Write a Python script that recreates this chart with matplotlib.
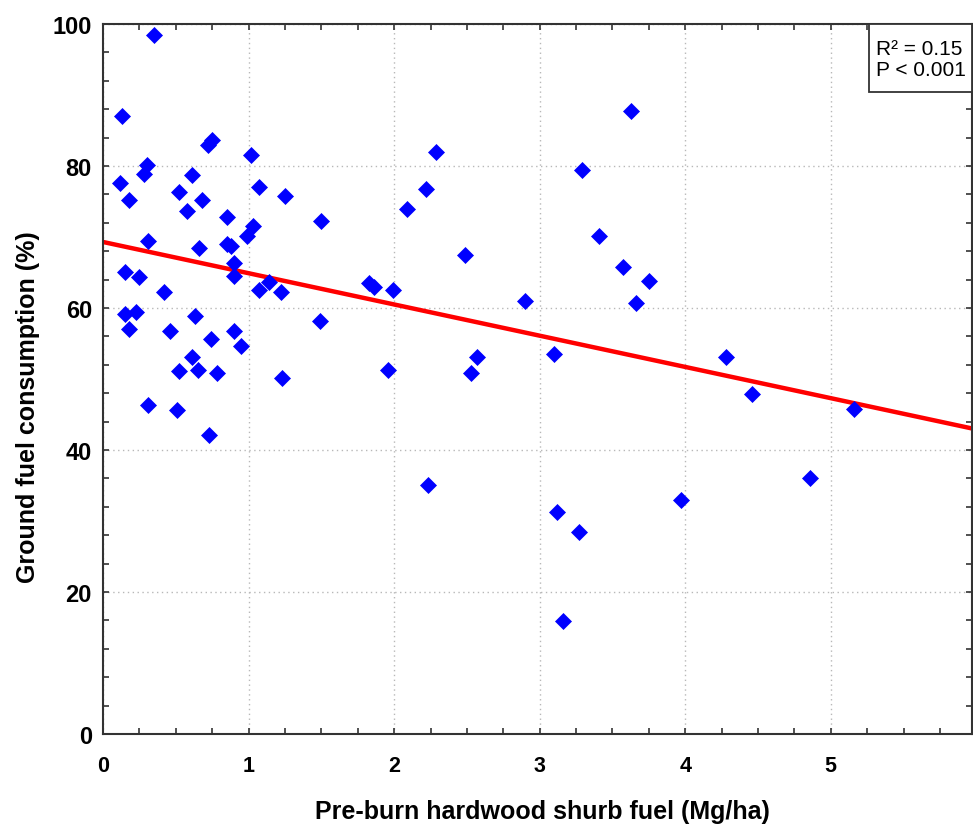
import matplotlib
matplotlib.use("Agg")
import matplotlib.pyplot as plt
import numpy as np
from matplotlib.ticker import MultipleLocator
from matplotlib.patches import Rectangle

# Data
shrub_fuel = [0.35, 0.13, 0.12, 0.18, 0.30, 0.28, 0.52, 0.58, 0.61, 0.68,
              0.72, 0.75, 1.02, 1.07, 1.25, 1.50, 0.85, 0.31, 0.99, 1.03,
              0.66, 0.85, 0.88, 0.15, 0.25, 0.42, 0.15, 0.23, 0.18, 0.46,
              0.63, 0.90, 0.90, 0.90, 0.95, 0.74, 0.61, 0.52, 0.65, 0.78,
              0.31, 0.51, 0.73, 1.07, 1.14, 1.22, 1.49, 1.23, 1.83, 1.86,
              1.99, 1.96, 3.63, 2.29, 2.22, 2.09, 3.29, 3.41, 2.49, 3.57,
              3.75, 3.66, 2.90, 3.10, 2.57, 2.53, 2.23, 3.12, 3.27, 3.16,
              3.97, 4.28, 4.46, 5.16, 4.86]
consumption = [98.5, 87.0, 77.6, 75.2, 80.2, 78.9, 76.4, 73.7, 78.8, 75.2,
               83.0, 83.7, 81.5, 77.0, 75.8, 72.2, 72.8, 69.4, 70.1, 71.5,
               68.4, 69.0, 68.8, 65.0, 64.3, 62.3, 59.1, 59.5, 57.1, 56.7,
               58.9, 66.4, 64.5, 56.7, 54.7, 55.6, 53.1, 51.1, 51.2, 50.9,
               46.3, 45.6, 42.1, 62.5, 63.7, 62.3, 58.2, 50.1, 63.5, 62.9,
               62.5, 51.3, 87.7, 82.0, 76.8, 74.0, 79.4, 70.2, 67.4, 65.8,
               63.8, 60.7, 61.0, 53.5, 53.1, 50.8, 35.1, 31.3, 28.4, 15.9,
               33.0, 53.1, 47.9, 45.8, 36.1]
fit_intercept = 69.3
fit_slope = -4.40
stats_text = "R\u00b2 = 0.15\nP < 0.001"
x_label = "Pre-burn hardwood shurb fuel (Mg/ha)"
y_label = "Ground fuel consumption (%)"

plt.rcParams['font.family'] = ['Liberation Sans', 'DejaVu Sans']

fig = plt.figure(figsize=(9.73, 8.28), dpi=100)
ax = fig.add_axes([103/973, (828-735)/828, (972-103)/973, (735-25)/828])

xmax = 5.97
ax.set_xlim(0, xmax)
ax.set_ylim(0, 100)

ax.grid(True, which='major', linestyle=(0, (1, 2.5)), color='#b8b8b8', linewidth=1.0)
ax.set_axisbelow(True)

xs = np.array([0, xmax + 0.1])
ax.plot(xs, fit_intercept + fit_slope * xs, color='#ff0000', linewidth=3.2,
        zorder=2, solid_capstyle='butt')
ax.plot(shrub_fuel, consumption, linestyle='none', marker='D', markersize=8.5,
        color='#0000ff', markeredgecolor='#0000ff', markeredgewidth=0.5, zorder=3)

ax.xaxis.set_major_locator(MultipleLocator(1))
ax.xaxis.set_minor_locator(MultipleLocator(0.25))
ax.yaxis.set_major_locator(MultipleLocator(20))
ax.yaxis.set_minor_locator(MultipleLocator(4))
ax.tick_params(which='both', direction='in', top=True, right=True,
               length=4, width=1.2, color='#333333')
ax.tick_params(axis='x', which='major', labelsize=15.5, pad=15)
ax.tick_params(axis='y', which='major', labelsize=17, pad=8)
for lab in ax.get_xticklabels() + ax.get_yticklabels():
    lab.set_fontweight('bold')

for sp in ax.spines.values():
    sp.set_color('#333333')
    sp.set_linewidth(1.5)

ax.set_xlabel(x_label, fontsize=18, fontweight='bold')
ax.set_ylabel(y_label, fontsize=18, fontweight='bold')
ax.xaxis.set_label_coords(0.506, -0.092)
ax.yaxis.set_label_coords(-0.072, 0.462)

ax.add_patch(Rectangle((0.8815, 0.904), 0.1185, 0.096, transform=ax.transAxes,
                       facecolor='white', edgecolor='#333333', linewidth=1.3,
                       zorder=5, clip_on=False))
ax.text(0.889, 0.951, stats_text, transform=ax.transAxes, ha='left', va='center',
        fontsize=15, linespacing=1.1, zorder=6)

fig.savefig("out.png", dpi=100)
